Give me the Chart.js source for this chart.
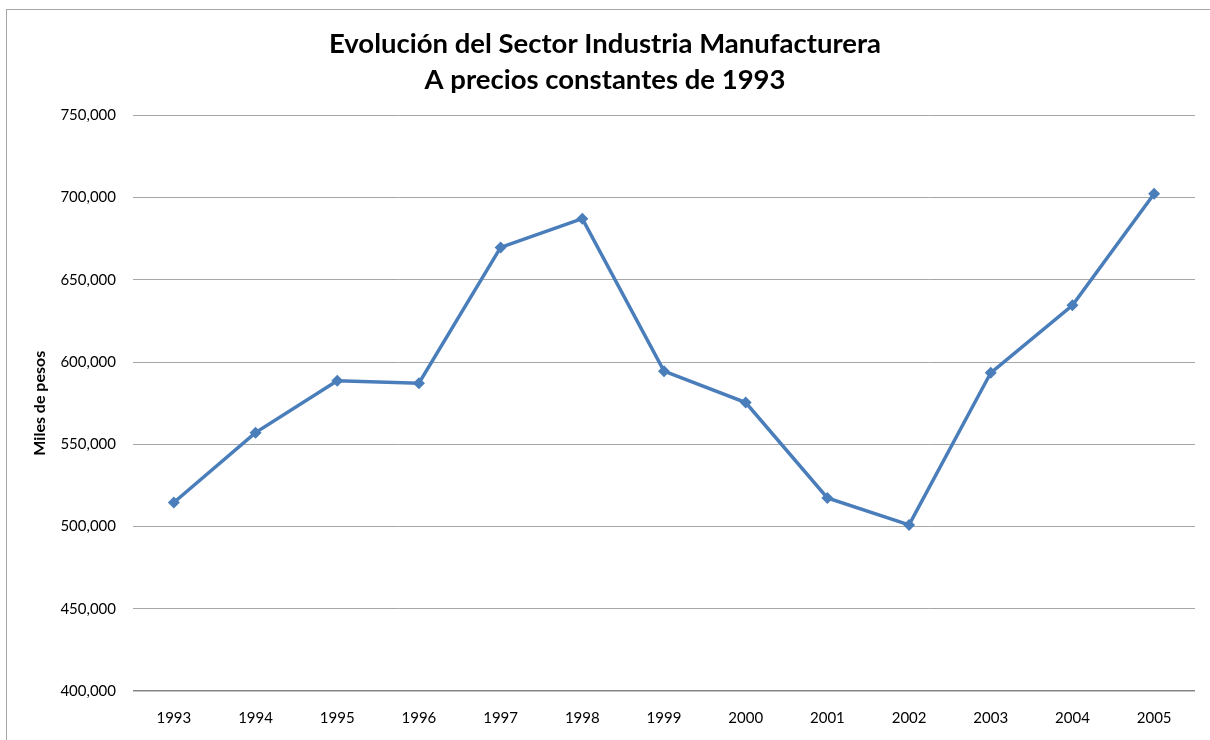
<!DOCTYPE html>
<html>
<head>
<meta charset="utf-8">
<script src="https://cdn.jsdelivr.net/npm/chart.js@4"></script>
<style>
  html, body { margin: 0; padding: 0; background: #fff; overflow: hidden; }
  #wrap { width: 1210px; height: 740px; position: relative; }
</style>
</head>
<body>
<div id="wrap"><canvas id="chart" width="1210" height="740"></canvas></div>
<script>
// --- Daten ---
const years = ['1993', '1994', '1995', '1996', '1997', '1998', '1999', '2000', '2001', '2002', '2003', '2004', '2005'];
const manufactura = [514600, 557100, 588700, 587200, 669700, 687200, 594500, 575400, 517400, 501000, 593500, 634500, 702400];
const yTicks = [400000, 450000, 500000, 550000, 600000, 650000, 700000, 750000];

const titleLines = ['Evolución del Sector Industria Manufacturera', 'A precios constantes de 1993'];
const yTitle = 'Miles de pesos';

const FONT = 'Lato, "Open Sans", sans-serif';
const LINE_BLUE = '#4a7ebb';

// Rahmen um das Diagramm (wie im Excel-Original)
const framePlugin = {
  id: 'frame',
  beforeDraw(chart) {
    const ctx = chart.ctx;
    ctx.save();
    ctx.fillStyle = '#fff';
    ctx.fillRect(0, 0, chart.width, chart.height);
    ctx.strokeStyle = '#a6a6a6';
    ctx.lineWidth = 1;
    ctx.strokeRect(6.5, 9.5, chart.width + 20, chart.height + 20);
    ctx.restore();
  }
};

const ctx = document.getElementById('chart').getContext('2d');
new Chart(ctx, {
  type: 'line',
  data: {
    labels: years,
    datasets: [{
      data: manufactura,
      borderColor: LINE_BLUE,
      backgroundColor: LINE_BLUE,
      borderWidth: 3.5,
      pointStyle: 'rectRot',
      pointRadius: 6,
      pointBorderWidth: 0,
      pointBackgroundColor: LINE_BLUE,
      tension: 0
    }]
  },
  options: {
    responsive: false,
    animation: false,
    layout: { padding: 0 },
    plugins: {
      legend: { display: false },
      tooltip: { enabled: false },
      title: {
        display: true,
        text: titleLines,
        color: '#000',
        font: { family: FONT, size: 27.5, weight: 'bold', lineHeight: 1.28 },
        padding: { top: 27, bottom: 18 }
      }
    },
    scales: {
      x: {
        offset: true,
        grid: { display: false, drawTicks: false },
        border: { display: false },
        ticks: { color: '#000', font: { family: FONT, size: 15 }, padding: 18, maxRotation: 0 },
        afterFit(scale) { scale.height = 49; }
      },
      y: {
        min: 400000,
        max: 750000,
        afterBuildTicks(scale) { scale.ticks = yTicks.map(v => ({ value: v })); },
        grid: {
          drawTicks: false,
          color: (c) => c.tick && c.tick.value === 400000 ? '#868686' : '#a6a6a6',
          lineWidth: (c) => c.tick && c.tick.value === 400000 ? 1.5 : 1
        },
        border: { display: false },
        ticks: {
          color: '#000',
          font: { family: FONT, size: 15 },
          padding: 17,
          callback: (v) => v.toLocaleString('en-US')
        },
        title: {
          display: true,
          text: yTitle,
          color: '#000',
          font: { family: FONT, size: 16, weight: 'bold' },
          padding: { top: 30, bottom: 0 }
        },
        afterFit(scale) { scale.width = 133; }
      },
      // leere Achse rechts, damit der Titel ueber die ganze Breite zentriert bleibt
      yRight: {
        position: 'right',
        display: true,
        grid: { display: false, drawTicks: false },
        border: { display: false },
        ticks: { display: false },
        afterFit(scale) { scale.width = 15; }
      }
    }
  },
  plugins: [framePlugin]
});
</script>
</body>
</html>
